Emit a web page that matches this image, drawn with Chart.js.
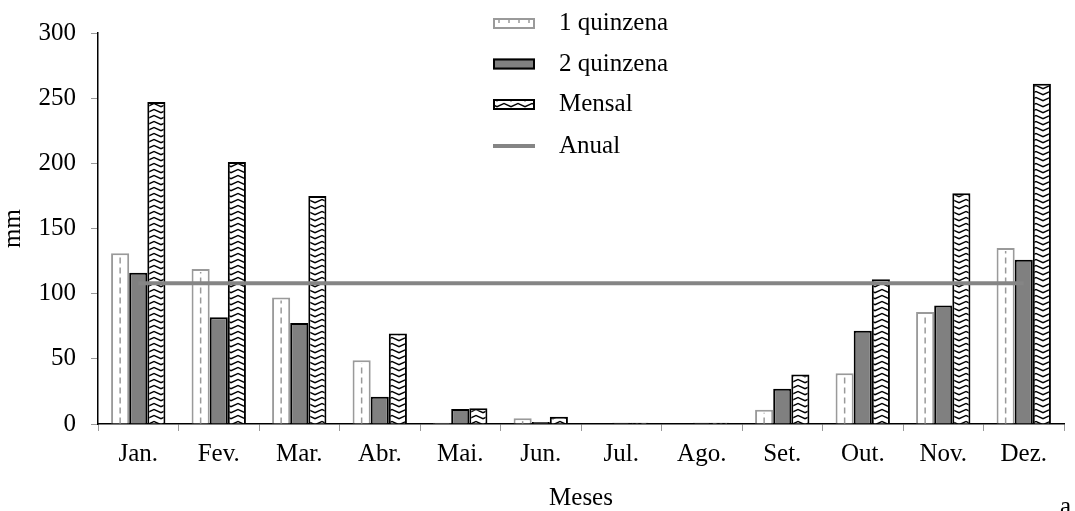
<!DOCTYPE html>
<html>
<head>
<meta charset="utf-8">
<script src="https://cdn.jsdelivr.net/npm/chart.js@4/dist/chart.umd.min.js"></script>
<style>
  html, body { margin: 0; padding: 0; background: #fff; }
  #wrap { width: 1075px; height: 511px; position: relative; }
</style>
</head>
<body>
<div id="wrap"><canvas id="c" width="1075" height="511"></canvas></div>
<script>
// ---- data ----
const months = ['Jan.', 'Fev.', 'Mar.', 'Abr.', 'Mai.', 'Jun.', 'Jul.', 'Ago.', 'Set.', 'Out.', 'Nov.', 'Dez.'];
const quinzena1 = [131, 119, 97, 49, 1, 4.5, 0, 0, 11, 39, 86, 135];
const quinzena2 = [116, 82, 77.5, 21, 11.5, 1.5, 1, 1, 27, 71.5, 91, 126];
const mensal = [247, 201, 175, 69.5, 12, 5.5, 1, 1, 38, 111, 177, 261];
const anual = [108, 108, 108, 108, 108, 108, 108, 108, 108, 108, 108, 108];
const seriesLabels = ['1 quinzena', '2 quinzena', 'Mensal', 'Anual'];
const yTicks = [0, 50, 100, 150, 200, 250, 300];
const xTitle = 'Meses';
const yTitle = 'mm';
const cornerLabel = 'a';

const FONT = "'Liberation Serif', 'Times New Roman', serif";

// zigzag pattern for "Mensal"
function makeZigzag() {
  const t = document.createElement('canvas');
  t.width = 14; t.height = 6;
  const g = t.getContext('2d');
  g.fillStyle = '#fff';
  g.fillRect(0, 0, 14, 6);
  g.strokeStyle = '#000';
  g.lineWidth = 1.5;
  g.beginPath();
  g.moveTo(-1, 1);
  g.lineTo(7, 4.6);
  g.lineTo(15, 1);
  g.stroke();
  return g.createPattern(t, 'repeat');
}
const zigzag = makeZigzag();

const GREY_LINE = '#858585';
const GREY_BORDER = '#9a9a9a';

// plugin: dashed centre line in 1st-quinzena bars
const dashPlugin = {
  id: 'dashes',
  afterDatasetDraw(chart, args) {
    if (args.index !== 0) return;
    const ctx = chart.ctx;
    const meta = chart.getDatasetMeta(0);
    ctx.save();
    ctx.strokeStyle = GREY_BORDER;
    ctx.lineWidth = 1.5;
    ctx.setLineDash([6, 4]);
    meta.data.forEach(el => {
      const p = el.getProps(['x', 'y', 'base'], true);
      if (p.base - p.y < 4) return;
      ctx.beginPath();
      ctx.moveTo(p.x, p.base);
      ctx.lineTo(p.x, p.y + 3);
      ctx.stroke();
    });
    ctx.restore();
  }
};

// plugin: legend inside chart + corner label
const legendPlugin = {
  id: 'customLegend',
  afterDraw(chart) {
    const ctx = chart.ctx;
    const ds = chart.data.datasets;
    const boxX = 493, boxW = 42, boxH = 11, textX = 559;
    const rows = [23.5, 64, 104.5, 146];
    ctx.save();
    ctx.font = '25px ' + FONT;
    ctx.textBaseline = 'middle';
    ctx.textAlign = 'left';
    ds.forEach((d, i) => {
      const cy = rows[i];
      if (d.type === 'line') {
        ctx.strokeStyle = d.borderColor;
        ctx.lineWidth = 4;
        ctx.beginPath();
        ctx.moveTo(boxX, cy);
        ctx.lineTo(boxX + boxW, cy);
        ctx.stroke();
      } else {
        ctx.fillStyle = d.backgroundColor;
        ctx.fillRect(boxX, cy - boxH / 2, boxW, boxH);
        if (i === 0) {
          ctx.strokeStyle = GREY_BORDER;
          ctx.lineWidth = 1.5;
          for (let k = 0; k < 4; k++) {
            const x = boxX + 6 + k * 10;
            ctx.beginPath();
            ctx.moveTo(x, cy - boxH / 2);
            ctx.lineTo(x, cy - boxH / 2 + 5);
            ctx.stroke();
          }
        }
        ctx.strokeStyle = d.borderColor;
        ctx.lineWidth = 2;
        ctx.strokeRect(boxX + 1, cy - boxH / 2 + 1, boxW - 2, boxH - 2);
      }
      ctx.fillStyle = '#000';
      ctx.fillText(d.label, textX, cy);
    });
    ctx.textBaseline = 'alphabetic';
    ctx.fillText(cornerLabel, 1060, 514);
    ctx.restore();
  }
};

new Chart(document.getElementById('c'), {
  data: {
    labels: months,
    datasets: [
      {
        type: 'bar', label: seriesLabels[0], data: quinzena1, order: 1,
        backgroundColor: '#ffffff', borderColor: GREY_BORDER, borderWidth: 2
      },
      {
        type: 'bar', label: seriesLabels[1], data: quinzena2, order: 1,
        backgroundColor: '#808080', borderColor: '#000000', borderWidth: 2
      },
      {
        type: 'bar', label: seriesLabels[2], data: mensal, order: 1,
        backgroundColor: zigzag, borderColor: '#000000', borderWidth: 2
      },
      {
        type: 'line', label: seriesLabels[3], data: anual, order: 0,
        borderColor: GREY_LINE, borderWidth: 4, pointRadius: 0, fill: false, tension: 0
      }
    ]
  },
  options: {
    responsive: false,
    animation: false,
    layout: { padding: { top: 33, right: 11, bottom: 0, left: 0 } },
    datasets: { bar: { categoryPercentage: 0.675, barPercentage: 1.0 } },
    plugins: { legend: { display: false }, tooltip: { enabled: false } },
    scales: {
      x: {
        offset: true,
        grid: { display: true, drawOnChartArea: false, offset: true, color: GREY_BORDER, tickLength: 7, lineWidth: 1 },
        border: { display: true, color: '#000', width: 1.5 },
        ticks: { color: '#000', font: { family: FONT, size: 25, lineHeight: 1.2 }, padding: 8, maxRotation: 0, autoSkip: false },
        title: { display: true, text: xTitle, color: '#000', font: { family: FONT, size: 25, lineHeight: 1 }, padding: 0 },
        afterFit(s) { s.height = 87; }
      },
      y: {
        min: 0, max: 300,
        afterBuildTicks(s) { s.ticks = yTicks.map(v => ({ value: v })); },
        grid: { display: true, drawOnChartArea: false, color: GREY_BORDER, tickLength: 7, lineWidth: 1 },
        border: { display: true, color: '#000', width: 1.5 },
        ticks: { color: '#000', font: { family: FONT, size: 25 }, padding: 15 },
        title: { display: true, text: yTitle, color: '#000', font: { family: FONT, size: 25, lineHeight: 1 }, padding: 1 },
        afterFit(s) { s.width = 98; }
      }
    }
  },
  plugins: [dashPlugin, legendPlugin]
});
</script>
</body>
</html>
